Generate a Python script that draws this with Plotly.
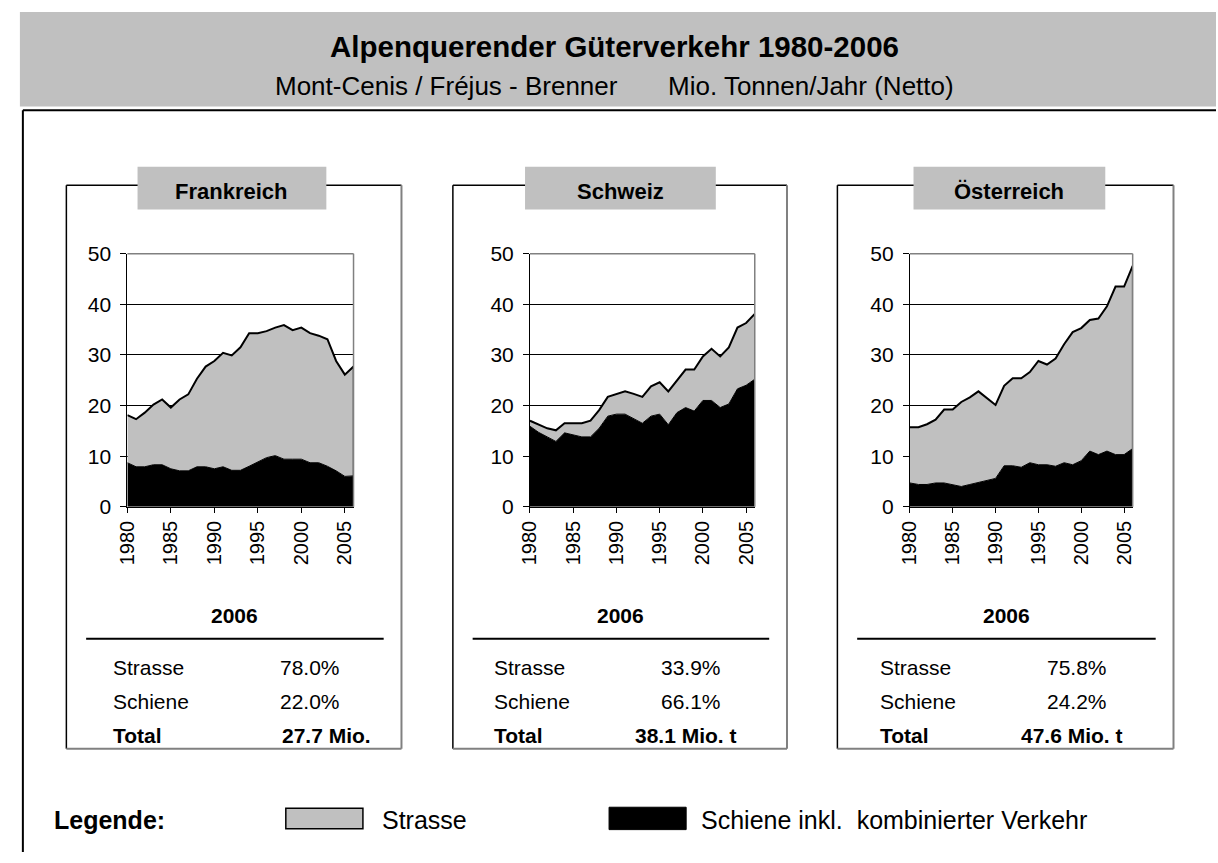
import plotly.graph_objects as go

W, H = 1218, 863

years = list(range(1980, 2007))

# Frankreich (Mont-Cenis / Fréjus)
fr_total = [18.1, 17.3, 18.6, 20.2, 21.2, 19.6, 21.2, 22.2, 25.3, 27.7, 28.8, 30.4, 29.9, 31.5, 34.3,
            34.3, 34.7, 35.4, 35.9, 34.9, 35.4, 34.3, 33.8, 33.1, 28.8, 26.1, 27.7]
fr_rail = [8.7, 7.9, 7.9, 8.3, 8.3, 7.5, 7.1, 7.1, 7.9, 7.9, 7.5, 7.9, 7.2, 7.2, 8.0,
           8.8, 9.7, 10.1, 9.4, 9.4, 9.4, 8.7, 8.7, 8.0, 7.1, 6.0, 6.1]

# Schweiz
ch_total = [17.0, 16.2, 15.5, 15.1, 16.5, 16.5, 16.5, 17.0, 19.1, 21.7, 22.3, 22.8, 22.3, 21.7, 23.8,
            24.6, 22.8, 24.9, 27.1, 27.1, 29.7, 31.2, 29.7, 31.5, 35.4, 36.3, 38.1]
ch_rail = [15.9, 14.7, 13.8, 12.9, 14.6, 14.2, 13.8, 13.8, 15.5, 17.9, 18.3, 18.3, 17.4, 16.5, 17.9,
           18.3, 16.2, 18.6, 19.6, 18.9, 21.0, 21.0, 19.6, 20.3, 23.3, 24.0, 25.2]

# Österreich (Brenner)
at_total = [15.7, 15.7, 16.3, 17.2, 19.2, 19.2, 20.7, 21.6, 22.8, 21.5, 20.1, 23.9, 25.4, 25.4, 26.6,
            28.8, 28.1, 29.3, 32.1, 34.5, 35.3, 36.9, 37.2, 39.6, 43.5, 43.5, 47.6]
at_rail = [4.7, 4.4, 4.4, 4.7, 4.7, 4.4, 4.0, 4.4, 4.8, 5.3, 5.6, 8.1, 8.1, 7.8, 8.7,
           8.3, 8.3, 8.0, 8.7, 8.3, 9.1, 11.0, 10.3, 11.0, 10.3, 10.3, 11.5]

countries = ["Frankreich", "Schweiz", "Österreich"]
totals = [fr_total, ch_total, at_total]
rails = [fr_rail, ch_rail, at_rail]
share_road = ["78.0%", "33.9%", "75.8%"]
share_rail = ["22.0%", "66.1%", "24.2%"]
total_text = ["27.7 Mio.", "38.1 Mio. t", "47.6 Mio. t"]

y_ticks = [0, 10, 20, 30, 40, 50]
x_ticks = [1980, 1985, 1990, 1995, 2000, 2005]

FONT = "Liberation Sans, Arial, sans-serif"
GRAY = "#c0c0c0"
DARK = "#808080"


def px(x):
    return x / W


def py(y):
    return 1 - y / H


# layout geometry (pixels)
plot_x = [(116.7, 345.5), (524.0, 751.4), (908.3, 1133.7)]
plot_y = (248.3, 508.3)
box_x = [(55, 394), (446, 784), (835, 1175)]
box_y = (178, 757)
label_x = [(127, 318), (519, 712), (912, 1106)]
label_y = (159, 203)
row_y = [673, 708, 743]
# table column positions (label left, percent centre, total centre), pixels
col_lab = [100, 486, 876]
col_pct = [301, 687, 1077]
col_tot = [318, 682, 1072]

fig = go.Figure()
shapes = []
ann = []

for i in range(3):
    xa = "x" if i == 0 else f"x{i+1}"
    ya = "y" if i == 0 else f"y{i+1}"
    fig.add_trace(go.Scatter(x=years, y=rails[i], mode="lines", fill="tozeroy",
                             fillcolor="black", line=dict(color="black", width=1),
                             xaxis=xa, yaxis=ya, hoverinfo="skip", showlegend=False))
    fig.add_trace(go.Scatter(x=years, y=totals[i], mode="lines", fill="tonexty",
                             fillcolor=GRAY, line=dict(color="black", width=2),
                             xaxis=xa, yaxis=ya, hoverinfo="skip", showlegend=False))
    fig.add_trace(go.Scatter(x=[years[-1], years[-1]], y=[rails[i][-1], totals[i][-1]], mode="lines",
                             line=dict(color="black", width=1.5),
                             xaxis=xa, yaxis=ya, hoverinfo="skip", showlegend=False))
    axn = "" if i == 0 else str(i + 1)
    fig.layout["xaxis" + axn] = dict(
        domain=[px(plot_x[i][0]), px(plot_x[i][1])], range=[1980, 2006], anchor=ya,
        tickvals=x_ticks, tickangle=-90, ticks="outside", ticklen=5, tickcolor="black",
        showline=True, linecolor="black", linewidth=1, showgrid=False, zeroline=False,
        tickfont=dict(family=FONT, size=20, color="black"), fixedrange=True)
    fig.layout["yaxis" + axn] = dict(
        domain=[py(plot_y[1]), py(plot_y[0])], range=[0, 50], anchor=xa,
        tickvals=y_ticks, ticks="outside", ticklen=6, tickcolor="black", ticklabelstandoff=5,
        showline=True, linecolor="black", linewidth=1, showgrid=True, gridcolor="black",
        gridwidth=1, zeroline=False, tickfont=dict(family=FONT, size=21, color="black"),
        fixedrange=True)
    # gray top / right plot border
    shapes.append(dict(type="line", xref=f"{xa} domain", yref=f"{ya} domain", x0=0, x1=1, y0=1, y1=1,
                       line=dict(color=DARK, width=1.5), layer="above"))
    shapes.append(dict(type="line", xref=f"{xa} domain", yref=f"{ya} domain", x0=1, x1=1, y0=0, y1=1,
                       line=dict(color=DARK, width=1.5), layer="above"))

    # panel frame
    bx0, bx1 = box_x[i]
    shapes.append(dict(type="line", xref="paper", yref="paper", x0=px(bx0), x1=px(bx1),
                       y0=py(box_y[0]), y1=py(box_y[0]), line=dict(color="black", width=1.5)))
    shapes.append(dict(type="line", xref="paper", yref="paper", x0=px(bx0), x1=px(bx0),
                       y0=py(box_y[0]), y1=py(box_y[1]), line=dict(color="black", width=1.5)))
    shapes.append(dict(type="line", xref="paper", yref="paper", x0=px(bx1), x1=px(bx1),
                       y0=py(box_y[0]), y1=py(box_y[1]), line=dict(color=DARK, width=2)))
    shapes.append(dict(type="line", xref="paper", yref="paper", x0=px(bx0), x1=px(bx1),
                       y0=py(box_y[1]), y1=py(box_y[1]), line=dict(color=DARK, width=2)))
    # label box
    lx0, lx1 = label_x[i]
    shapes.append(dict(type="rect", xref="paper", yref="paper", x0=px(lx0), x1=px(lx1),
                       y0=py(label_y[1]), y1=py(label_y[0]), fillcolor=GRAY, line=dict(width=0)))
    ann.append(dict(x=px((lx0 + lx1) / 2), y=py(184), text=f"<b>{countries[i]}</b>",
                    font=dict(family=FONT, size=22, color="black")))

    # table
    cx = (bx0 + bx1) / 2
    ann.append(dict(x=px(cx + 1), y=py(620), text="<b>2006</b>", font=dict(family=FONT, size=21, color="black")))
    shapes.append(dict(type="line", xref="paper", yref="paper", x0=px(bx0 + 20), x1=px(bx1 - 18),
                       y0=py(644), y1=py(644), line=dict(color="black", width=2)))
    rows = [("Strasse", share_road[i], row_y[0], False), ("Schiene", share_rail[i], row_y[1], False),
            ("Total", total_text[i], row_y[2], True)]
    for name, val, yy, bold in rows:
        t1 = f"<b>{name}</b>" if bold else name
        t2 = f"<b>{val}</b>" if bold else val
        ann.append(dict(x=px(col_lab[i]), y=py(yy), text=t1, xanchor="left",
                        font=dict(family=FONT, size=21, color="black")))
        ann.append(dict(x=px(col_tot[i] if bold else col_pct[i]), y=py(yy), text=t2, xanchor="center",
                        font=dict(family=FONT, size=21, color="black")))

# header
shapes.insert(0, dict(type="rect", xref="paper", yref="paper", x0=px(8), x1=1, y0=py(97), y1=1,
                      fillcolor=GRAY, line=dict(width=0), layer="below"))
shapes.append(dict(type="line", xref="paper", yref="paper", x0=px(11), x1=1, y0=py(101), y1=py(101),
                   line=dict(color="black", width=2)))
shapes.append(dict(type="line", xref="paper", yref="paper", x0=px(11), x1=px(11), y0=py(101), y1=0,
                   line=dict(color="black", width=2)))
ann.append(dict(x=0.5, y=py(35), text="<b>Alpenquerender Güterverkehr 1980-2006</b>",
                font=dict(family=FONT, size=29.5, color="black")))
ann.append(dict(x=0.5, y=py(76), text="Mont-Cenis / Fréjus - Brenner       Mio. Tonnen/Jahr (Netto)",
                font=dict(family=FONT, size=26, color="black")))

# legend
leg_y = 830
ann.append(dict(x=px(40), y=py(leg_y), text="<b>Legende:</b>", xanchor="left",
                font=dict(family=FONT, size=25, color="black")))
shapes.append(dict(type="rect", xref="paper", yref="paper", x0=px(277), x1=px(355),
                   y0=py(leg_y + 9), y1=py(leg_y - 12),
                   fillcolor=GRAY, line=dict(color="black", width=1.5)))
ann.append(dict(x=px(372), y=py(leg_y), text="Strasse", xanchor="left",
                font=dict(family=FONT, size=25, color="black")))
shapes.append(dict(type="rect", xref="paper", yref="paper", x0=px(604), x1=px(682),
                   y0=py(leg_y + 10), y1=py(leg_y - 13),
                   fillcolor="black", line=dict(color="black", width=1)))
ann.append(dict(x=px(695), y=py(leg_y), text="Schiene inkl.  kombinierter Verkehr", xanchor="left",
                font=dict(family=FONT, size=25, color="black")))

for a in ann:
    a.setdefault("xref", "paper")
    a.setdefault("yref", "paper")
    a.setdefault("showarrow", False)
    a.setdefault("yanchor", "middle")
    a.setdefault("xanchor", "center")

fig.update_layout(width=W, height=H, margin=dict(l=0, r=0, t=0, b=0),
                  paper_bgcolor="white", plot_bgcolor="white", showlegend=False,
                  shapes=shapes, annotations=ann)

fig.write_html("out.html", config={"displayModeBar": False},
               post_script="document.body.style.margin='0';document.body.style.overflow='hidden';")
